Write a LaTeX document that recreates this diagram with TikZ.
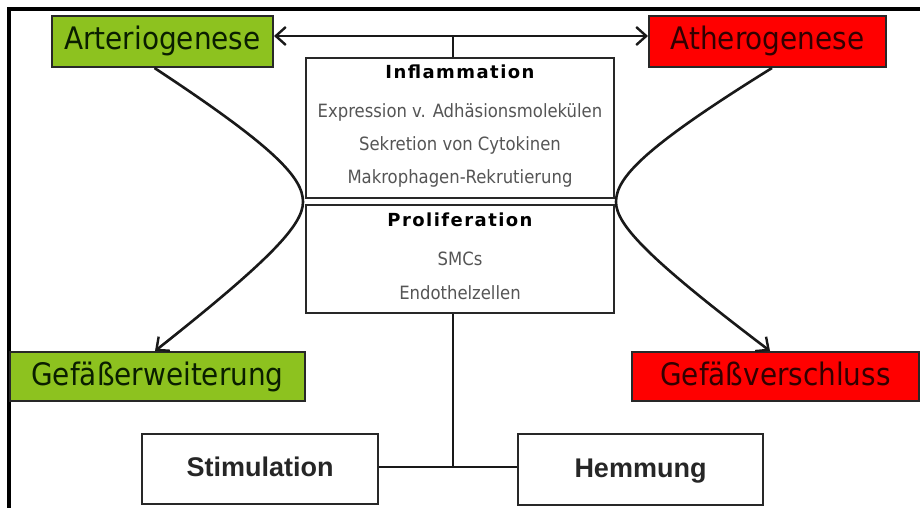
\documentclass[tikz,border=0pt]{standalone}
\usepackage{fontspec}
\setmainfont{DejaVu Sans}
\newfontfamily\condf{DejaVu Sans Condensed}
\newfontfamily\headf{DejaVu Sans}[LetterSpace=8]
\newfontfamily\arialf{Liberation Sans}
\usetikzlibrary{arrows.meta}
\definecolor{boxgreen}{RGB}{141,194,31}
\definecolor{boxred}{RGB}{255,0,0}
\definecolor{edgecol}{RGB}{40,40,40}
\definecolor{graytxt}{RGB}{85,85,85}
\definecolor{gtxt}{RGB}{10,30,0}
\definecolor{rtxt}{RGB}{50,0,0}
\begin{document}
\begin{tikzpicture}[x=1pt,y=-1pt,
  colbox/.style={draw=edgecol, line width=2pt, inner sep=0pt,
    font=\condf\fontsize{31}{31}\selectfont, text height=23pt, text depth=6pt},
  greenbox/.style={colbox, fill=boxgreen, text=gtxt},
  redbox/.style={colbox, fill=boxred, text=rtxt},
  whitebox/.style={draw=edgecol, line width=2pt, fill=white, inner sep=0pt},
  actbox/.style={whitebox, font=\arialf\bfseries\fontsize{27}{27}\selectfont, text=black!85,
    text height=20pt, text depth=5pt},
  headtxt/.style={anchor=mid, inner sep=0pt, font=\headf\bfseries\fontsize{18}{18}\selectfont},
  itemtxt/.style={anchor=mid, inner sep=0pt, text=graytxt, font=\condf\fontsize{18.3}{18.3}\selectfont},
  conn/.style={draw=black!90, line width=2.6pt},
  barb/.tip={Straight Barb[length=10pt,width=18pt,line width=2.4pt]},
  tip/.style={-barb}
]
\useasboundingbox (0,0) rectangle (920,508);
% frame
\draw[line width=4pt] (7,9.5) -- (920,9.5);
\draw[line width=4pt] (9,7.5) -- (9,508);
% boxes
\node[greenbox, minimum width=221pt, minimum height=51pt] (arter) at (162.5,41.5) {Arteriogenese};
\node[redbox, minimum width=237pt, minimum height=51pt] (ather) at (767.5,41.5) {Atherogenese};
\node[greenbox, minimum width=295pt, minimum height=49pt] (erw) at (157.5,376.5) {Gefäßerweiterung};
\node[redbox, minimum width=287pt, minimum height=49pt] (versch) at (775.5,376.5) {Gefäßverschluss};
\node[whitebox, minimum width=308pt, minimum height=140pt] (infl) at (460,128) {};
\node[whitebox, minimum width=308pt, minimum height=108pt] (prolif) at (460,259) {};
\node[actbox, minimum width=236pt, minimum height=70pt] (stim) at (260,469) {Stimulation};
\node[actbox, minimum width=245pt, minimum height=71pt] (hemm) at (640.5,469.5) {Hemmung};
% texts in central boxes
\node[headtxt] (t1) at (460,76) {Inflammation};
\node[itemtxt] (t2) at (460,115) {Expression v. Adhäsionsmolekülen};
\node[itemtxt] (t3) at (460,148) {Sekretion von Cytokinen};
\node[itemtxt] (t4) at (460,181) {Makrophagen-Rekrutierung};
\node[headtxt] (t5) at (460,224) {Proliferation};
\node[itemtxt] (t6) at (460,263) {SMCs};
\node[itemtxt] (t7) at (460,297) {Endothelzellen};
% top arrow
\coordinate (topj) at (453,36);
\draw[conn,barb-barb] (arter.east |- topj) -- (ather.west |- topj);
\draw[conn] (topj) -- (topj |- infl.north);
% curves
\coordinate (ltip) at (303,202);
\coordinate (rtip) at (616,202);
\draw[conn,tip] ([xshift=-8pt]arter.south) .. controls (276,148) and (303,178) .. (ltip)
  .. controls (303,225) and (270,260) .. ([xshift=-2.5pt]erw.north);
\draw[conn,tip] ([xshift=4.5pt]ather.south) .. controls (643,148) and (616,178) .. (rtip)
  .. controls (616,225) and (650,260) .. ([xshift=-5.5pt]versch.north);
% bottom connectors
\coordinate (junc) at (453,467);
\draw[conn] (junc |- prolif.south) -- (junc);
\draw[conn] (stim.east |- junc) -- (hemm.west |- junc);
\end{tikzpicture}
\end{document}
